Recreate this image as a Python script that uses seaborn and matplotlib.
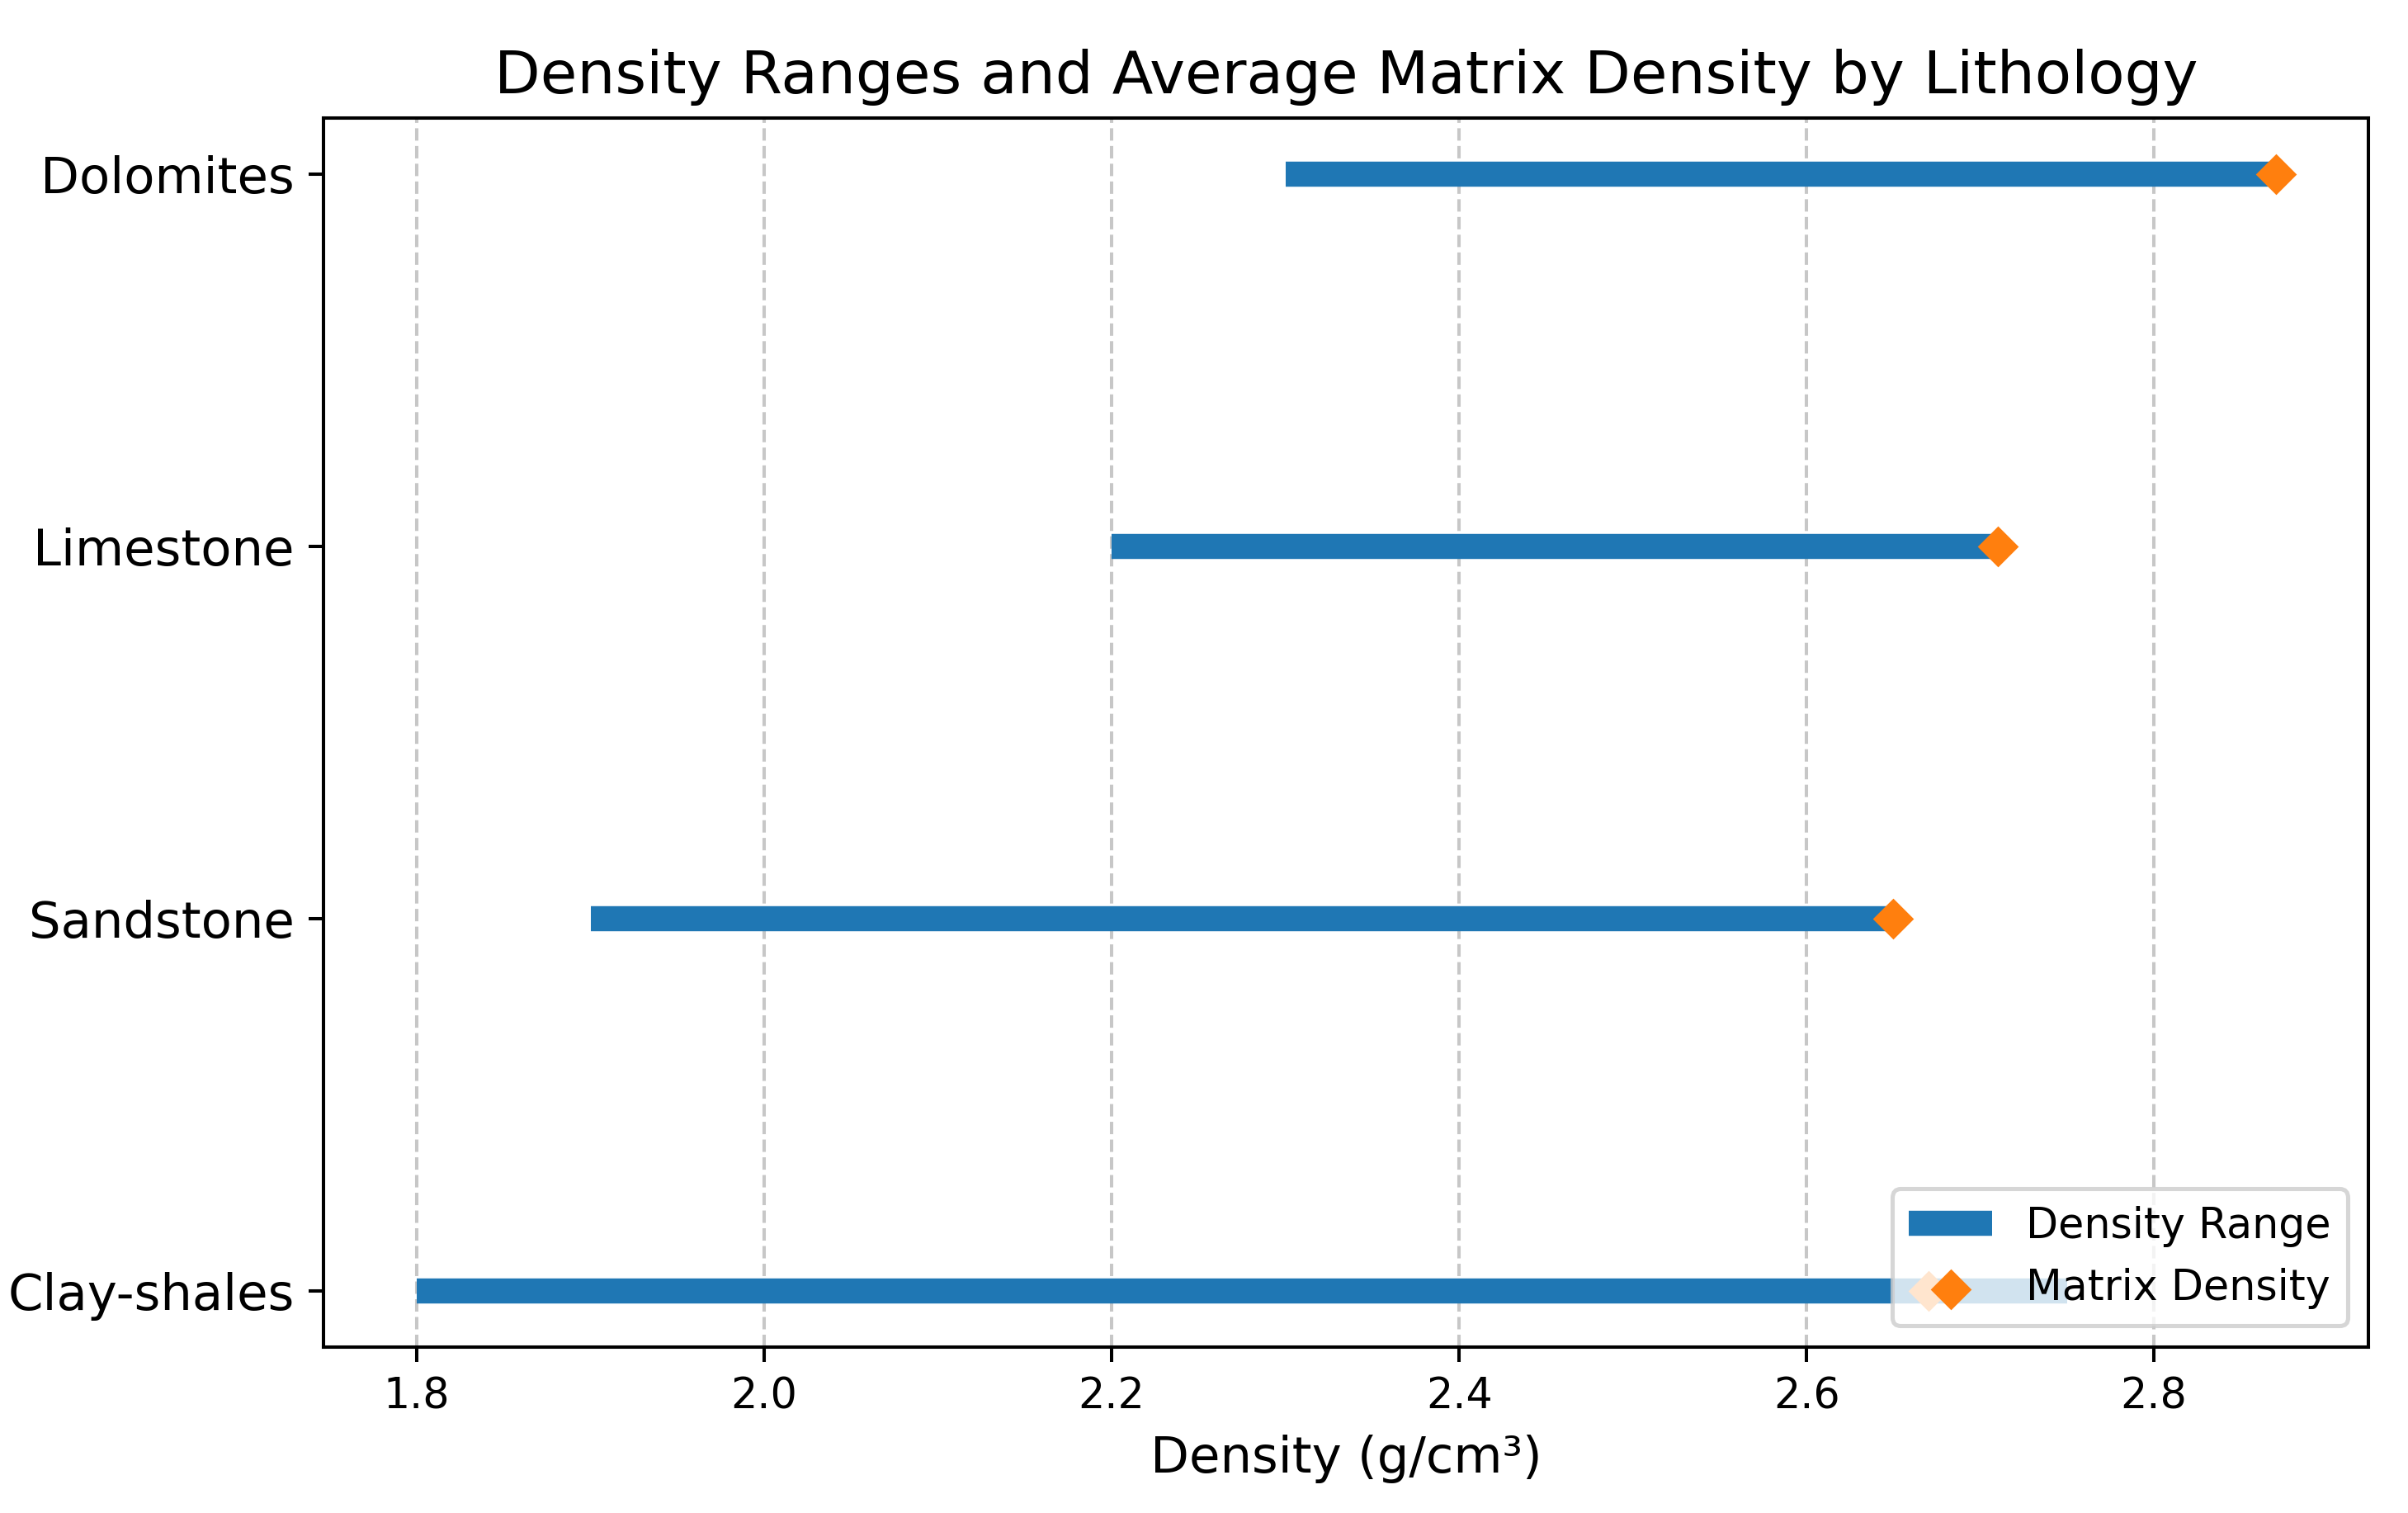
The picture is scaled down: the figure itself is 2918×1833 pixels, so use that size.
import numpy as np
import pandas as pd
import matplotlib.pyplot as plt
import seaborn as sns

# density ranges (g/cm3) and average matrix density per lithology
lithology = ["Clay-shales", "Sandstone", "Limestone", "Dolomites"]
range_min = [1.80, 1.90, 2.20, 2.30]
range_max = [2.75, 2.65, 2.71, 2.87]
matrix_density = [2.67, 2.65, 2.71, 2.87]

df = pd.DataFrame({
    "lithology": lithology,
    "pos": np.arange(len(lithology)),
    "min": range_min,
    "max": range_max,
    "matrix": matrix_density,
})

dpi = 365
fig, ax = plt.subplots(figsize=(2918 / dpi, 1833 / dpi), dpi=dpi)
fig.subplots_adjust(left=0.1345, right=0.9836, bottom=0.1098, top=0.922)

ax.hlines(df["pos"], df["min"], df["max"], color="tab:blue", linewidth=6,
          label="Density Range")
sns.scatterplot(data=df, x="matrix", y="pos", marker="D", s=48,
                color="tab:orange", linewidth=0, zorder=3,
                label="Matrix Density", ax=ax)

ax.set_yticks(df["pos"])
ax.set_yticklabels(df["lithology"], fontsize=12)
ax.set_ylabel("")
ax.set_xlabel("Density (g/cm³)", fontsize=12)
ax.set_title("Density Ranges and Average Matrix Density by Lithology", fontsize=14.3)
ax.grid(axis="x", linestyle="--", alpha=0.7)
ax.legend(loc="lower right")

fig.savefig("out.png", dpi=dpi)
